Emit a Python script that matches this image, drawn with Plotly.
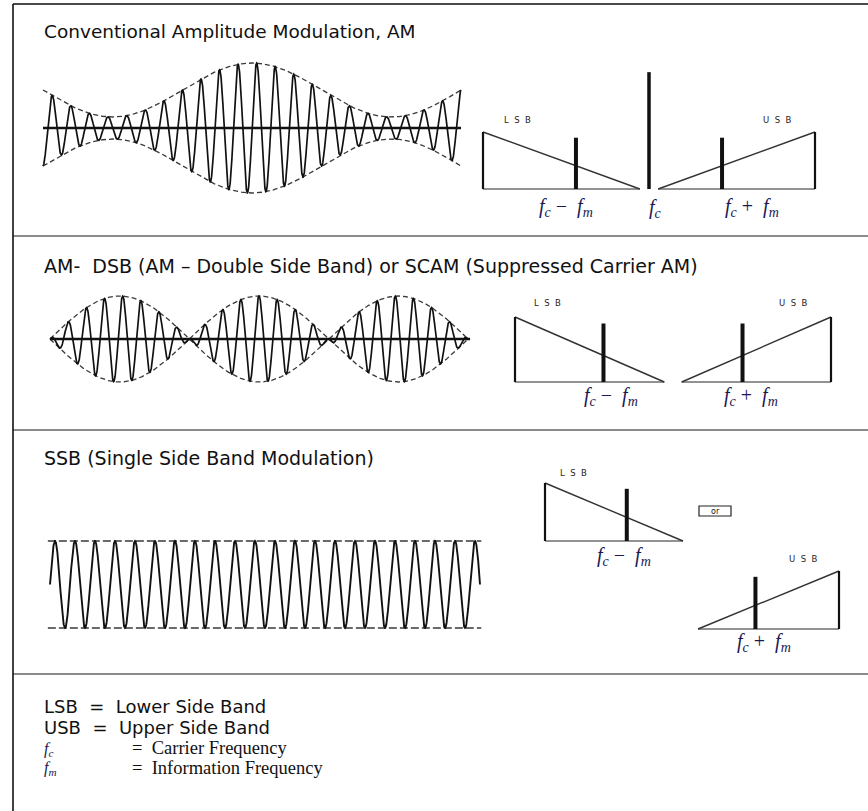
import numpy as np
import plotly.graph_objects as go

W, H = 868, 811

# ---------------- text content ----------------
TITLE_AM = "Conventional Amplitude Modulation, AM"
TITLE_DSB = "AM-\u00a0 DSB (AM \u2013 Double Side Band) or SCAM (Suppressed Carrier AM)"
TITLE_SSB = "SSB (Single Side Band Modulation)"
LEGEND_SANS = ["LSB\u00a0 =\u00a0 Lower Side Band", "USB\u00a0 =\u00a0 Upper Side Band"]
LEGEND_SYMBOLS = ["<i>f</i><sub><i>c</i></sub>", "<i>f</i><sub><i>m</i></sub>"]
LEGEND_MEANINGS = ["=\u00a0 Carrier Frequency", "=\u00a0 Information Frequency"]
LABEL_LOWER = "<i>f</i><sub><i>c</i></sub>\u00a0\u2212\u00a0 <i>f</i><sub><i>m</i></sub>"
LABEL_CARRIER = "<i>f</i><sub><i>c</i></sub>"
LABEL_UPPER = "<i>f</i><sub><i>c</i></sub>\u00a0+\u00a0 <i>f</i><sub><i>m</i></sub>"
BAND_NAMES = ["L\u00a0 S\u00a0 B", "U\u00a0 S\u00a0 B"]
OR_LABEL = "or"

# ---------------- waveform parameters ----------------
AM_CARRIER_CYCLES = 22.5
AM_MESSAGE_CYCLES = 1.5
AM_MOD_DEPTH = 0.71
DSB_CARRIER_CYCLES = 23.0
DSB_MESSAGE_CYCLES = 1.5
SSB_CARRIER_CYCLES = 21.5

# ---------------- spectrum values (offset from fc, relative magnitude) ----------------
LSB_FREQ = [-1.0, -0.055]
LSB_MAG = [1.0, 0.0]
USB_FREQ = [0.055, 1.0]
USB_MAG = [0.0, 1.0]
TONE_FREQ = [-0.44, 0.44]
TONE_MAG = [0.9, 0.9]
CARRIER_FREQ = [0.0]
CARRIER_MAG = [2.05]

INK = "#111111"
MATH_INK = "#1a1a52"

fig = go.Figure()
layout_axes = {}


def add_axes(n, box, xa, ya):
    """box=(left, top, right, bottom) in px; xa/ya = ((px, value), (px, value))."""
    (p0, v0), (p1, v1) = xa
    sx = (v1 - v0) / (p1 - p0)
    xr = [v0 + (box[0] - p0) * sx, v0 + (box[2] - p0) * sx]
    (q0, w0), (q1, w1) = ya
    sy = (w1 - w0) / (q1 - q0)
    yr = [w0 + (box[3] - q0) * sy, w0 + (box[1] - q0) * sy]
    sfx = "" if n == 1 else str(n)
    layout_axes["xaxis" + sfx] = dict(domain=[box[0] / W, box[2] / W], range=xr,
                                      visible=False, fixedrange=True, anchor="y" + sfx)
    layout_axes["yaxis" + sfx] = dict(domain=[1 - box[3] / H, 1 - box[1] / H], range=yr,
                                      visible=False, fixedrange=True, anchor="x" + sfx)
    return ("x" + sfx, "y" + sfx)


def line(ax, x, y, width, color=INK, dash=None):
    fig.add_trace(go.Scatter(x=list(x), y=list(y), mode="lines",
                             line=dict(width=width, color=color, dash=dash),
                             xaxis=ax[0], yaxis=ax[1], hoverinfo="skip", showlegend=False))


# axes (pixel boxes and calibration)
ax_am = add_axes(1, (35, 50, 470, 205), ((43, 0.0), (461, 1.0)), ((128, 0.0), (90, 1.0)))
ax_am_s = add_axes(2, (475, 65, 825, 195), ((483, -1.0), (815, 1.0)), ((189, 0.0), (132, 1.0)))
ax_dsb = add_axes(3, (42, 288, 480, 392), ((50, 0.0), (468, 1.0)), ((339, 0.0), (296, 1.0)))
ax_dsb_s = add_axes(4, (505, 305, 840, 390), ((515, -1.0), (831, 1.0)), ((382, 0.0), (317, 1.0)))
ax_ssb = add_axes(5, (40, 530, 490, 640), ((50, 0.0), (480, 1.0)), ((584.5, 0.0), (541, 1.0)))
ax_ssb_l = add_axes(6, (535, 475, 695, 548), ((545, -1.0), (683, -0.055)), ((541, 0.0), (483, 1.0)))
ax_ssb_u = add_axes(7, (690, 563, 848, 636), ((698, 0.055), (839, 1.0)), ((629, 0.0), (571, 1.0)))

t = np.linspace(0.0, 1.0, 3000)
ENV_DASH = "5px,3px"

# ---- AM waveform
am_env = 1.0 + AM_MOD_DEPTH * np.cos(2 * np.pi * AM_MESSAGE_CYCLES * (t - 0.5))
am_sig = am_env * np.cos(2 * np.pi * AM_CARRIER_CYCLES * t + np.pi)
line(ax_am, t, am_env, 1.3, "#3a3a3a", ENV_DASH)
line(ax_am, t, -am_env, 1.3, "#3a3a3a", ENV_DASH)
line(ax_am, t, am_sig, 1.7)
line(ax_am, [0.0, 1.0], [0.0, 0.0], 2.6)

# ---- DSB waveform
dsb_env = np.sin(2 * np.pi * DSB_MESSAGE_CYCLES * t)
dsb_sig = dsb_env * np.cos(2 * np.pi * DSB_CARRIER_CYCLES * t)
line(ax_dsb, t, dsb_env, 1.3, "#3a3a3a", ENV_DASH)
line(ax_dsb, t, -dsb_env, 1.3, "#3a3a3a", ENV_DASH)
line(ax_dsb, t, dsb_sig, 1.7)
line(ax_dsb, [0.0, 1.005], [0.0, 0.0], 2.6)

# ---- SSB waveform
ssb_sig = np.sin(2 * np.pi * SSB_CARRIER_CYCLES * t)
line(ax_ssb, [-0.005, 1.003], [1.0, 1.0], 1.3, "#3a3a3a", "8px,3px")
line(ax_ssb, [-0.005, 1.003], [-1.0, -1.0], 1.3, "#3a3a3a", "8px,3px")
line(ax_ssb, t, ssb_sig, 1.9)


# ---- spectra
def band(ax, freq, mag, tone_f, tone_m):
    outer = 0 if mag[0] > mag[1] else 1
    line(ax, [freq[0], freq[1]], [0.0, 0.0], 1.4, "#6e6e6e")
    line(ax, freq, mag, 1.4, "#333333")
    line(ax, [freq[outer], freq[outer]], [0.0, mag[outer]], 2.2)
    line(ax, [tone_f, tone_f], [0.0, tone_m], 4.0)


band(ax_am_s, LSB_FREQ, LSB_MAG, TONE_FREQ[0], TONE_MAG[0])
band(ax_am_s, USB_FREQ, USB_MAG, TONE_FREQ[1], TONE_MAG[1])
line(ax_am_s, [CARRIER_FREQ[0]] * 2, [0.0, CARRIER_MAG[0]], 3.5)

band(ax_dsb_s, LSB_FREQ, LSB_MAG, TONE_FREQ[0], TONE_MAG[0])
band(ax_dsb_s, USB_FREQ, USB_MAG, TONE_FREQ[1], TONE_MAG[1])

band(ax_ssb_l, LSB_FREQ, LSB_MAG, TONE_FREQ[0], TONE_MAG[0])
band(ax_ssb_u, USB_FREQ, USB_MAG, TONE_FREQ[1], TONE_MAG[1])

# ---------------- annotations ----------------
anns = []
SANS = "DejaVu Sans, Liberation Sans, Arial, sans-serif"
SERIF = "Liberation Serif, Times New Roman, serif"


def ann(text, x, y, size, family=SANS, color=INK, xanchor="left"):
    anns.append(dict(text=text, x=x / W, y=1 - y / H, xref="paper", yref="paper",
                     xanchor=xanchor, yanchor="middle", showarrow=False,
                     font=dict(size=size, family=family, color=color)))


ann(TITLE_AM, 42, 32, 18.5)
ann(TITLE_DSB, 42, 266, 19)
ann(TITLE_SSB, 42, 458, 19)

BAND_INK = "#2a2222"
ann(BAND_NAMES[0], 517, 120, 8.5, color=BAND_INK, xanchor="center")
ann(BAND_NAMES[1], 777, 120, 8.5, color=BAND_INK, xanchor="center")
ann(BAND_NAMES[0], 547, 303, 8.5, color=BAND_INK, xanchor="center")
ann(BAND_NAMES[1], 793, 303, 8.5, color=BAND_INK, xanchor="center")
ann(BAND_NAMES[0], 573, 473, 8.5, color=BAND_INK, xanchor="center")
ann(BAND_NAMES[1], 803, 559, 8.5, color=BAND_INK, xanchor="center")

MS = 20
ann(LABEL_LOWER, 566, 207, MS, SERIF, MATH_INK, "center")
ann(LABEL_CARRIER, 655, 208, MS, SERIF, MATH_INK, "center")
ann(LABEL_UPPER, 752, 207, MS, SERIF, MATH_INK, "center")
ann(LABEL_LOWER, 611, 396, MS, SERIF, MATH_INK, "center")
ann(LABEL_UPPER, 751, 396, MS, SERIF, MATH_INK, "center")
ann(LABEL_LOWER, 624, 556, MS, SERIF, MATH_INK, "center")
ann(LABEL_UPPER, 764, 642, MS, SERIF, MATH_INK, "center")

ann(OR_LABEL, 715, 511, 8, xanchor="center")

ann(LEGEND_SANS[0], 42, 706, 18)
ann(LEGEND_SANS[1], 42, 727, 18)
ann(LEGEND_SYMBOLS[0], 42, 749, 16, SERIF, MATH_INK)
ann(LEGEND_SYMBOLS[1], 42, 768, 16, SERIF, MATH_INK)
ann(LEGEND_MEANINGS[0], 130, 748, 18.5, SERIF)
ann(LEGEND_MEANINGS[1], 130, 768, 18.5, SERIF)

# ---------------- frame ----------------
shapes = []


def hline(y, x0, x1, color, width):
    shapes.append(dict(type="line", xref="paper", yref="paper", x0=x0 / W, x1=x1 / W,
                       y0=1 - y / H, y1=1 - y / H, line=dict(color=color, width=width)))


hline(4, 13, W, "#4a4a4a", 2)
for ysep in (236, 430, 674):
    hline(ysep, 13, W, "#8c8c8c", 2.2)
shapes.append(dict(type="line", xref="paper", yref="paper", x0=13 / W, x1=13 / W,
                   y0=0, y1=1 - 4 / H, line=dict(color="#111111", width=1.6)))
shapes.append(dict(type="rect", xref="paper", yref="paper", x0=699 / W, x1=731 / W,
                   y0=1 - 516 / H, y1=1 - 506 / H, line=dict(color="#222222", width=1.2)))

fig.update_layout(width=W, height=H, margin=dict(l=0, r=0, t=0, b=0),
                  paper_bgcolor="white", plot_bgcolor="rgba(0,0,0,0)",
                  showlegend=False, annotations=anns, shapes=shapes, **layout_axes)

fig.write_html("out.html", config={"displayModeBar": False},
               post_script="document.body.style.margin='0px';")
